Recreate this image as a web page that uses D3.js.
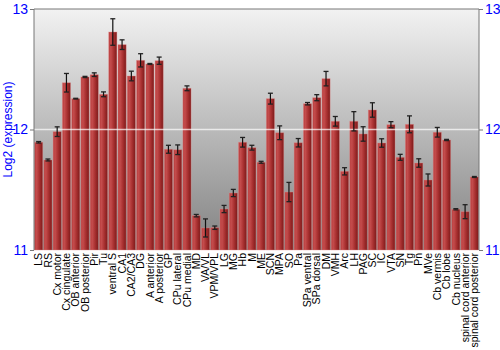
<!DOCTYPE html>
<html>
<head>
<meta charset="utf-8">
<script src="https://cdn.jsdelivr.net/npm/d3@7"></script>
<style>
  body { margin: 0; background: #fff; }
  svg { display: block; font-family: "Liberation Sans", Arial, sans-serif; }
</style>
</head>
<body>
<div id="chart"></div>
<script>
const categories = ["LS", "RS", "Cx motor", "Cx cingulate", "OB anterior", "OB posterior", "Pir", "Tu",
  "ventral S", "CA1", "CA2/CA3", "DG", "A anterior", "A posterior", "GP", "CPu lateral", "CPu medial",
  "MD", "VA/VL", "VPM/VPL", "LG", "MG", "Hb", "M", "ME", "SCN", "MPA", "SO", "Pa", "SPa ventral",
  "SPa dorsal", "DM", "VMH", "Arc", "LH", "PAG", "SC", "IC", "VTA", "SN", "Tg", "Pn", "MVe",
  "Cb vermis", "Cb lobe", "Cb nucleus", "spinal cord anterior", "spinal cord posterior"];

const values = [11.894, 11.747, 11.982, 12.388, 12.256, 12.436, 12.455, 12.292,
  12.809, 12.704, 12.444, 12.574, 12.544, 12.571, 11.836, 11.832, 12.342,
  11.285, 11.183, 11.185, 11.34, 11.473, 11.894, 11.849, 11.728, 12.256, 11.973, 11.481, 11.89, 12.214,
  12.264, 12.422, 12.068, 11.653, 12.068, 11.963, 12.162, 11.888, 12.04, 11.769, 12.043, 11.722, 11.581,
  11.977, 11.913, 11.338, 11.318, 11.606];

const errors = [0.006, 0.008, 0.04, 0.077, 0.003, 0.005, 0.015, 0.02,
  0.11, 0.04, 0.04, 0.055, 0.004, 0.03, 0.033, 0.04, 0.02,
  0.01, 0.075, 0.014, 0.03, 0.03, 0.04, 0.02, 0.008, 0.045, 0.057, 0.08, 0.035, 0.01,
  0.025, 0.06, 0.04, 0.03, 0.08, 0.06, 0.06, 0.035, 0.025, 0.025, 0.07, 0.035, 0.05,
  0.04, 0.005, 0.005, 0.058, 0.004];

const yTicks = [11, 12, 13];
const yTitle = "Log2 (expression)";

const w = 500, h = 350;
const margin = { top: 9, right: 21, bottom: 100, left: 34 };

const svg = d3.select("#chart").append("svg")
  .attr("width", w)
  .attr("height", h);

const defs = svg.append("defs");

const bg = defs.append("linearGradient")
  .attr("id", "bg")
  .attr("x1", 0).attr("y1", 0).attr("x2", 0).attr("y2", 1);
bg.append("stop").attr("offset", "0%").attr("stop-color", "#f2f2f2");
bg.append("stop").attr("offset", "100%").attr("stop-color", "#828282");

const barGrad = defs.append("linearGradient")
  .attr("id", "bar")
  .attr("x1", 0).attr("y1", 0).attr("x2", 1).attr("y2", 0);
barGrad.append("stop").attr("offset", "0%").attr("stop-color", "#b83c3c");
barGrad.append("stop").attr("offset", "25%").attr("stop-color", "#c44c4c");
barGrad.append("stop").attr("offset", "60%").attr("stop-color", "#a83030");
barGrad.append("stop").attr("offset", "100%").attr("stop-color", "#7c1a1a");

const x = d3.scaleBand()
  .domain(categories)
  .range([margin.left, w - margin.right])
  .paddingInner(0.12)
  .paddingOuter(0.06);

const y = d3.scaleLinear()
  .domain([11, 13])
  .range([h - margin.bottom, margin.top]);

const x0 = margin.left, x1 = w - margin.right;

svg.append("rect")
  .attr("x", x0)
  .attr("y", y(13))
  .attr("width", x1 - x0)
  .attr("height", y(11) - y(13))
  .attr("fill", "url(#bg)");

const data = categories.map((c, i) => ({ name: c, value: values[i], err: errors[i] }));

svg.selectAll(".bar")
  .data(data)
  .join("rect")
    .attr("class", "bar")
    .attr("x", d => x(d.name))
    .attr("y", d => y(d.value))
    .attr("width", x.bandwidth())
    .attr("height", d => y(11) - y(d.value))
    .attr("fill", "url(#bar)")
    .attr("stroke", "rgba(230,140,140,0.45)")
    .attr("stroke-width", 0.8);

// white reference line at 12
svg.append("line")
  .attr("x1", x0).attr("x2", x1)
  .attr("y1", y(12)).attr("y2", y(12))
  .attr("stroke", "#fff")
  .attr("stroke-opacity", 0.7)
  .attr("stroke-width", 1.5);

const eb = svg.selectAll(".err")
  .data(data)
  .join("g")
    .attr("class", "err")
    .attr("transform", d => `translate(${x(d.name) + x.bandwidth() / 2},0)`);

eb.append("line")
  .attr("y1", d => y(d.value - d.err))
  .attr("y2", d => y(d.value + d.err))
  .attr("stroke", "#111")
  .attr("stroke-width", 1.2);

eb.selectAll(".cap")
  .data(d => [d.value - d.err, d.value + d.err])
  .join("line")
    .attr("class", "cap")
    .attr("x1", -2.5).attr("x2", 2.5)
    .attr("y1", v => y(v)).attr("y2", v => y(v))
    .attr("stroke", "#222")
    .attr("stroke-width", 1.3);

// frame
svg.append("path")
  .attr("d", `M${x0},${y(11)}V${y(13)}H${x1}V${y(11)}`)
  .attr("fill", "none")
  .attr("stroke", "#777")
  .attr("stroke-width", 1);

const yl = svg.append("g")
  .attr("transform", `translate(${x0},0)`)
  .call(d3.axisLeft(y).tickValues(yTicks).tickSize(4).tickPadding(2).tickFormat(d3.format("d")));
yl.select(".domain").remove();
yl.selectAll("line").attr("stroke", "#777");
yl.selectAll("text").attr("fill", "#0000ff").style("font-size", "14px")
  .style("font-family", "'Liberation Sans', Arial, sans-serif");

const yr = svg.append("g")
  .attr("transform", `translate(${x1},0)`)
  .call(d3.axisRight(y).tickValues(yTicks).tickSize(4).tickPadding(2).tickFormat(d3.format("d")));
yr.select(".domain").remove();
yr.selectAll("line").attr("stroke", "#777");
yr.selectAll("text").attr("fill", "#0000ff").style("font-size", "14px")
  .style("font-family", "'Liberation Sans', Arial, sans-serif");

const xa = svg.append("g")
  .attr("transform", `translate(0,${y(11)})`)
  .call(d3.axisBottom(x).tickSize(0).tickPadding(0));
xa.select(".domain").remove();
xa.selectAll("text")
  .attr("transform", "rotate(-90)")
  .attr("text-anchor", "end")
  .attr("x", -3)
  .attr("y", 0)
  .attr("dy", "0.35em")
  .attr("fill", "#000")
  .style("font-size", "10.5px")
  .style("font-family", "'Liberation Sans', Arial, sans-serif");

svg.append("text")
  .attr("transform", `translate(12,${(y(11) + y(13)) / 2}) rotate(-90)`)
  .attr("text-anchor", "middle")
  .attr("fill", "#0000ff")
  .style("font-size", "12px")
  .text(yTitle);
</script>
</body>
</html>
